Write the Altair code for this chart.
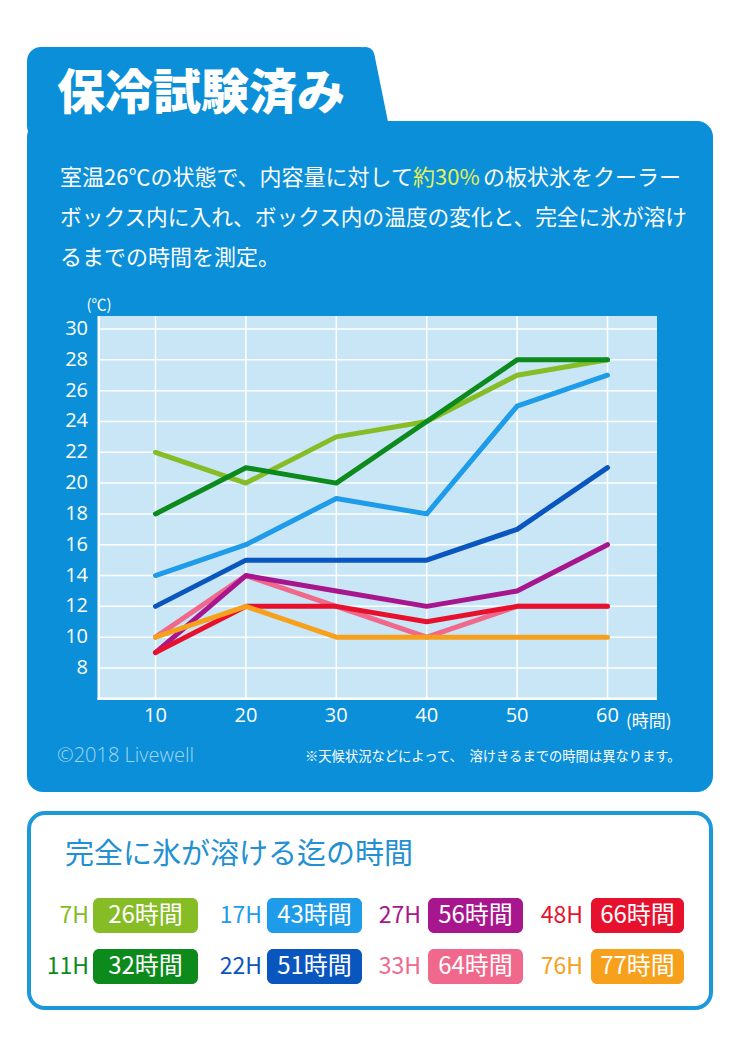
import altair as alt
import pandas as pd

# ---------------- data ----------------
hours = [10, 20, 30, 40, 50, 60]
y_ticks = [8, 10, 12, 14, 16, 18, 20, 22, 24, 26, 28, 30]

series_keys = ["7H", "11H", "17H", "22H", "27H", "33H", "48H", "76H"]
melt_times = ["26時間", "32時間", "43時間", "51時間", "56時間", "64時間", "66時間", "77時間"]

t_7h = [22, 20, 23, 24, 27, 28]
t_11h = [18, 21, 20, 24, 28, 28]
t_17h = [14, 16, 19, 18, 25, 27]
t_22h = [12, 15, 15, 15, 17, 21]
t_27h = [9, 14, 13, 12, 13, 16]
t_33h = [10, 14, 12, 10, 12, 12]
t_48h = [9, 12, 12, 11, 12, 12]
t_76h = [10, 12, 10, 10, 10, 10]

series_values = {
    "7H": t_7h, "11H": t_11h, "17H": t_17h, "22H": t_22h,
    "27H": t_27h, "33H": t_33h, "48H": t_48h, "76H": t_76h,
}
series_colors = {
    "7H": "#86bc25", "11H": "#0c8a1c", "17H": "#1e9be9", "22H": "#0a56bf",
    "27H": "#a8168e", "33H": "#f0698c", "48H": "#e8112d", "76H": "#f6a01c",
}
draw_order = ["7H", "11H", "17H", "22H", "33H", "27H", "48H", "76H"]

title_text = "保冷試験済み"
para1a = "室温26℃の状態で、内容量に対して"
para1b = "約30%"
para1c = "の板状氷をクーラー"
para2 = "ボックス内に入れ、ボックス内の温度の変化と、完全に氷が溶け"
para3 = "るまでの時間を測定。"
copyright_text = "©2018 Livewell"
note_text = "※天候状況などによって、　溶けきるまでの時間は異なります。"
legend_title = "完全に氷が溶ける迄の時間"
y_unit = "(℃)"
x_unit = "(時間)"

# ---------------- helpers ----------------
JP = "Noto Sans CJK JP"
LAT = "Open Sans"
PANEL = "#0a8fd8"
one = pd.DataFrame({"d": [0]})


def P(v):
    # page pixel -> chart pixel (page has 8px margin, chart padding 0)
    return v - 8


def rect(x1, y1, x2, y2, color, radius=0, stroke=None, sw=0):
    kw = dict(color=color, cornerRadius=radius)
    if stroke is not None:
        kw.update(stroke=stroke, strokeWidth=sw)
    return alt.Chart(one).mark_rect(**kw).encode(
        x=alt.value(P(x1)), x2=alt.value(P(x2)),
        y=alt.value(P(y1)), y2=alt.value(P(y2)))


def txt(s, x, y, size, color="white", align="left", weight="normal", font=JP):
    return alt.Chart(one).mark_text(
        text=s, align=align, baseline="middle", fontSize=size,
        color=color, fontWeight=weight, font=font).encode(
        x=alt.value(P(x)), y=alt.value(P(y)))


xscale = alt.Scale(domain=[10, 60], range=[P(155.5), P(607.5)], nice=False, zero=False)
yscale = alt.Scale(domain=[8, 30], range=[P(668), P(329)], nice=False, zero=False)

layers = []

# ---------------- blue panel with tab ----------------
layers.append(rect(27, 47, 374, 140, PANEL, radius=14))
layers.append(alt.Chart(one).mark_rule(color=PANEL, strokeWidth=18, strokeCap="round").encode(
    x=alt.value(P(365.5)), y=alt.value(P(56)),
    x2=alt.value(P(380.5)), y2=alt.value(P(130))))
layers.append(rect(27, 121, 713, 792, PANEL, radius=16))

# title + paragraph
layers.append(txt(title_text, 57, 95, 48, weight=900))
layers.append(txt(para1a, 60, 178, 22))
layers.append(txt(para1b, 413, 178, 22, color="#e4ef5a"))
layers.append(txt(para1c, 483, 178, 22))
layers.append(txt(para2, 60, 218, 21.7))
layers.append(txt(para3, 60, 258, 22))

# ---------------- plot area ----------------
layers.append(rect(98, 316, 657, 699, "#c8e6f6"))

lines_df_h = pd.DataFrame({"temp": y_ticks})
lines_df_v = pd.DataFrame({"hour": hours})
layers.append(alt.Chart(lines_df_h).mark_rule(color="white", strokeWidth=1.5).encode(
    y=alt.Y("temp:Q", scale=yscale, axis=None),
    x=alt.value(P(98)), x2=alt.value(P(657))))
layers.append(alt.Chart(lines_df_v).mark_rule(color="white", strokeWidth=1.5).encode(
    x=alt.X("hour:Q", scale=xscale, axis=None),
    y=alt.value(P(316)), y2=alt.value(P(699))))
# left & bottom white borders
layers.append(rect(97.5, 316, 100, 700, "white"))
layers.append(rect(97.5, 697.5, 657, 700, "white"))

# tick labels
layers.append(alt.Chart(lines_df_h).mark_text(
    align="right", baseline="middle", fontSize=20, color="white", font=LAT).encode(
    y=alt.Y("temp:Q", scale=yscale, axis=None), x=alt.value(P(88)), text="temp:Q"))
layers.append(alt.Chart(lines_df_v).mark_text(
    align="center", baseline="middle", fontSize=20, color="white", font=LAT).encode(
    x=alt.X("hour:Q", scale=xscale, axis=None), y=alt.value(P(716)), text="hour:Q"))
layers.append(txt(y_unit, 99, 305, 15, align="center"))
layers.append(txt(x_unit, 626, 722, 17))

# data lines
for key in draw_order:
    df = pd.DataFrame({"hour": hours, "temp": series_values[key], "series": key})
    layers.append(alt.Chart(df).mark_line(
        color=series_colors[key], strokeWidth=5, strokeCap="round", strokeJoin="round").encode(
        x=alt.X("hour:Q", scale=xscale, axis=None),
        y=alt.Y("temp:Q", scale=yscale, axis=None)))

# footer
layers.append(txt(copyright_text, 57, 756, 20, color="#a3d6f2", weight=300, font=LAT))
layers.append(txt(note_text, 305, 757, 13.3))

# ---------------- legend box ----------------
layers.append(rect(29, 813, 711, 1008, "white", radius=16, stroke="#1b99da", sw=4))
layers.append(txt(legend_title, 65, 855, 29, color="#2290d2"))

label_right = [89, 262, 421, 583]
box_x = [(93, 198), (267, 362), (428, 523), (591, 684)]
box_y = [(898, 933), (949, 984)]
for i, key in enumerate(series_keys):
    col, row = i // 2, i % 2
    x1, x2 = box_x[col]
    y1, y2 = box_y[row]
    c = series_colors[key]
    layers.append(txt(key, label_right[col], (y1 + y2) / 2, 23, color=c, align="right"))
    layers.append(rect(x1, y1, x2, y2, c, radius=6))
    layers.append(txt(melt_times[i], (x1 + x2) / 2, (y1 + y2) / 2, 24, align="center"))

chart = alt.layer(*layers).properties(
    width=724, height=1042, padding=0, background="white",
    autosize=alt.AutoSizeParams(type="none"),
).configure_view(stroke=None)

chart.save("out.html", embed_options={"renderer": "svg", "actions": False})
